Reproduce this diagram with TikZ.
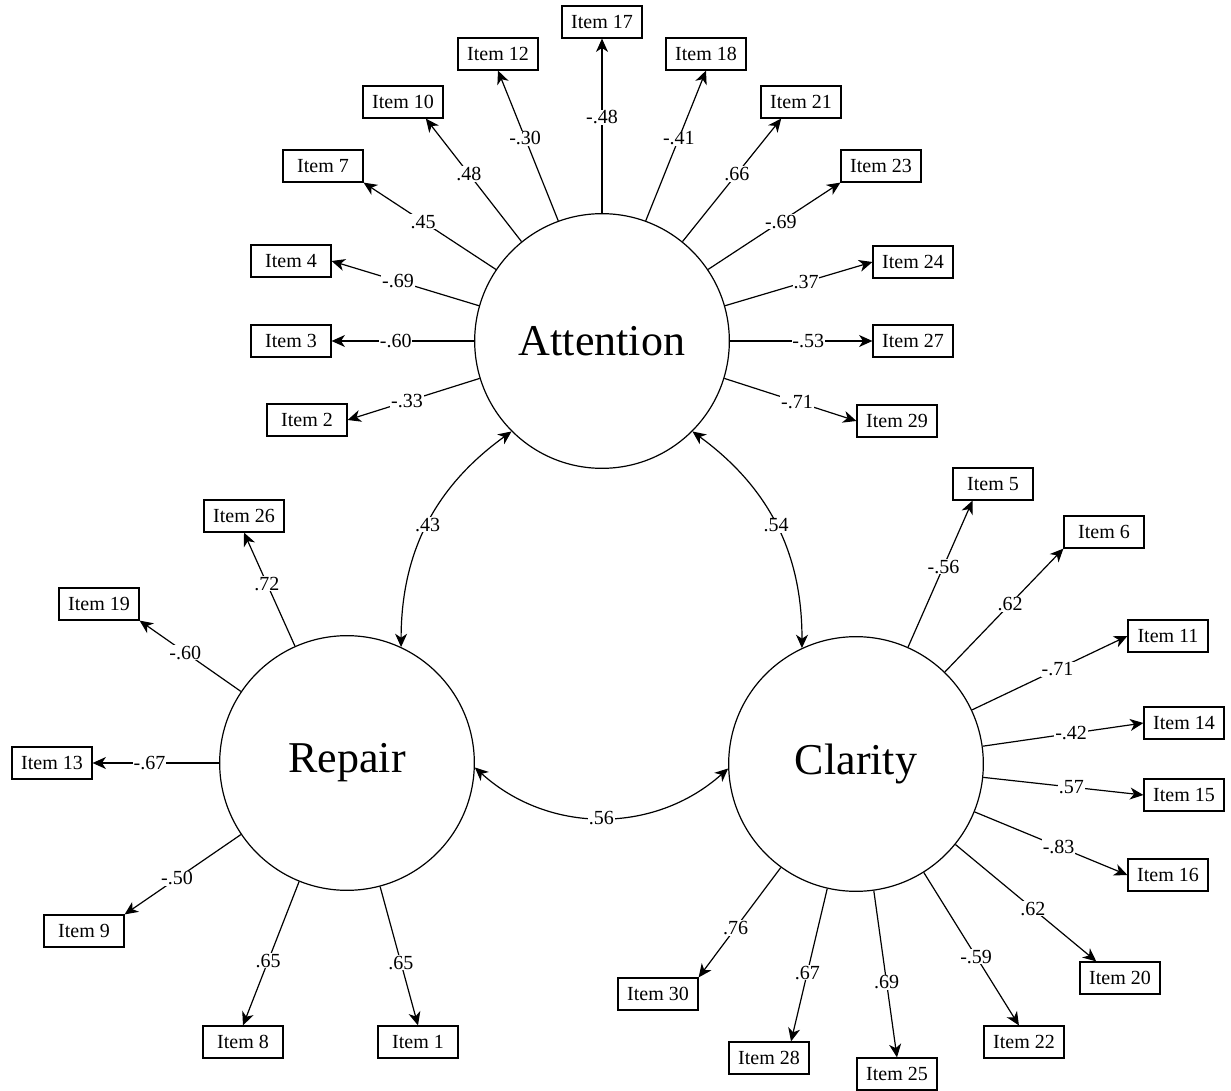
\documentclass[tikz,border=0pt]{standalone}
\usepackage{fontspec}
\setmainfont{Liberation Serif}
\usepackage{tikz}
\usetikzlibrary{arrows.meta}

\begin{document}
\begin{tikzpicture}[
    x=0.75pt, y=-0.75pt,
    line width=0.9pt,
    factor/.style={circle, draw, minimum size=191pt, inner sep=0pt, font=\fontsize{33}{40}\selectfont},
    item/.style={rectangle, draw, minimum width=60pt, minimum height=24pt, inner sep=0pt, font=\fontsize{15}{18}\selectfont},
    load/.style={-{Stealth[length=10pt, width=9pt, inset=3pt]}},
    cov/.style={{Stealth[length=10pt, width=9pt, inset=3pt]}-{Stealth[length=10pt, width=9pt, inset=3pt]}},
    coef/.style={fill=white, inner sep=0.6pt, font=\fontsize{15}{18}\selectfont},
]
\useasboundingbox (0,0) rectangle (1231,1091);

% Factors
\node[factor] (att) at (602,341) {Attention};
\node[factor] (rep) at (347,763) {Repair};
\node[factor] (cla) at (856,764) {Clarity};

% Attention items
\node[item] (i17) at (602,22) {Item 17};
\node[item] (i12) at (498,54) {Item 12};
\node[item] (i18) at (706,54) {Item 18};
\node[item] (i10) at (403,102) {Item 10};
\node[item] (i21) at (801,102) {Item 21};
\node[item] (i7) at (323,166) {Item 7};
\node[item] (i23) at (881,166) {Item 23};
\node[item] (i4) at (291,261) {Item 4};
\node[item] (i24) at (913,262) {Item 24};
\node[item] (i3) at (291,341) {Item 3};
\node[item] (i27) at (913,341) {Item 27};
\node[item] (i2) at (307,420) {Item 2};
\node[item] (i29) at (897,421) {Item 29};

\draw[load] (att.90) -- (i17.south) node[coef, pos=.55] {-.48};
\draw[load] (att.110) -- (i12.south) node[coef, pos=.55] {-.30};
\draw[load] (att.70) -- (i18.south) node[coef, pos=.55] {-.41};
\draw[load] (att.129) -- (i10.324) node[coef, pos=.55] {.48};
\draw[load] (att.51) -- (i21.220) node[coef, pos=.55] {.66};
\draw[load] (att.146) -- (i7.south east) node[coef, pos=.55] {.45};
\draw[load] (att.34) -- (i23.south west) node[coef, pos=.55] {-.69};
\draw[load] (att.164) -- (i4.east) node[coef, pos=.55] {-.69};
\draw[load] (att.16) -- (i24.west) node[coef, pos=.55] {.37};
\draw[load] (att.180) -- (i3.east) node[coef, pos=.55] {-.60};
\draw[load] (att.0) -- (i27.west) node[coef, pos=.55] {-.53};
\draw[load] (att.197) -- (i2.east) node[coef, pos=.55] {-.33};
\draw[load] (att.343) -- (i29.west) node[coef, pos=.55] {-.71};

% Repair items
\node[item] (i26) at (244,516) {Item 26};
\node[item] (i19) at (99,604) {Item 19};
\node[item] (i13) at (52,763) {Item 13};
\node[item] (i9) at (84,931) {Item 9};
\node[item] (i8) at (243,1042) {Item 8};
\node[item] (i1) at (418,1042) {Item 1};

\draw[load] (rep.114) -- (i26.south) node[coef, pos=.55] {.72};
\draw[load] (rep.146) -- (i19.south east) node[coef, pos=.55] {-.60};
\draw[load] (rep.180) -- (i13.east) node[coef, pos=.55] {-.67};
\draw[load] (rep.214) -- (i9.north east) node[coef, pos=.55] {-.50};
\draw[load] (rep.248) -- (i8.north) node[coef, pos=.55] {.65};
\draw[load] (rep.285) -- (i1.north) node[coef, pos=.55] {.65};

% Clarity items
\node[item] (i5) at (993,484) {Item 5};
\node[item] (i6) at (1104,532) {Item 6};
\node[item] (i11) at (1168,636) {Item 11};
\node[item] (i14) at (1184,723) {Item 14};
\node[item] (i15) at (1184,795) {Item 15};
\node[item] (i16) at (1168,875) {Item 16};
\node[item] (i20) at (1120,978) {Item 20};
\node[item] (i22) at (1024,1042) {Item 22};
\node[item] (i25) at (897,1074) {Item 25};
\node[item] (i28) at (769,1058) {Item 28};
\node[item] (i30) at (658,994) {Item 30};

\draw[load] (cla.66) -- (i5.219) node[coef, pos=.55] {-.56};
\draw[load] (cla.46) -- (i6.south west) node[coef, pos=.55] {.62};
\draw[load] (cla.25) -- (i11.west) node[coef, pos=.55] {-.71};
\draw[load] (cla.8) -- (i14.west) node[coef, pos=.55] {-.42};
\draw[load] (cla.354) -- (i15.west) node[coef, pos=.55] {.57};
\draw[load] (cla.338) -- (i16.west) node[coef, pos=.55] {-.83};
\draw[load] (cla.321) -- (i20.145) node[coef, pos=.55] {.62};
\draw[load] (cla.302) -- (i22.107) node[coef, pos=.55] {-.59};
\draw[load] (cla.278) -- (i25.north) node[coef, pos=.55] {.69};
\draw[load] (cla.257) -- (i28.37) node[coef, pos=.55] {.67};
\draw[load] (cla.234) -- (i30.north east) node[coef, pos=.55] {.76};

% Factor covariances
\draw[cov] (rep.65) to[bend left=27] node[coef] {.43} (att.225);
\draw[cov] (att.315) to[bend left=27] node[coef] {.54} (cla.115);
\draw[cov] (rep.358) to[bend right=42] node[coef] {.56} (cla.182);

\end{tikzpicture}
\end{document}
